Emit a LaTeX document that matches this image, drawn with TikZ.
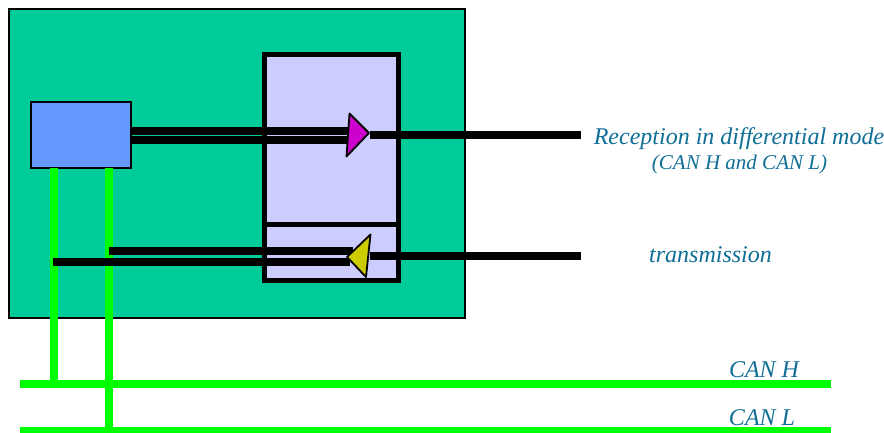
\documentclass[tikz,border=0pt]{standalone}
\usepackage{fontspec}
\setmainfont{Liberation Serif}
\definecolor{boardgreen}{HTML}{00CC99}
\definecolor{lavender}{HTML}{CCCCFF}
\definecolor{cpublue}{HTML}{6699FF}
\definecolor{rxmagenta}{HTML}{CC00CC}
\definecolor{txyellow}{HTML}{CCCC00}
\definecolor{labelblue}{HTML}{0F6E96}
\definecolor{busgreen}{HTML}{00FF00}
\tikzset{
  box/.style={rectangle,draw=black,inner sep=0pt,outer sep=0pt},
  wire/.style={line width=8pt,black},
  bus/.style={line width=8pt,busgreen},
  lbl/.style={text=labelblue,inner sep=0pt,font=\itshape\fontsize{24}{28}\selectfont}
}

\begin{document}
\begin{tikzpicture}[x=1pt,y=-1pt]
  \useasboundingbox (0,0) rectangle (884,432);
  \node[box,fill=boardgreen,line width=2pt,minimum width=456pt,minimum height=309pt] (board) at (237,163.5) {};
  \node[box,fill=lavender,line width=5pt,minimum width=134pt,minimum height=226pt] (xcvr) at (331.5,167.5) {};
  \node[box,fill=cpublue,line width=2pt,minimum width=100pt,minimum height=66pt] (cpu) at (81,135) {};
  \coordinate (divl) at (264.5,224);
  \coordinate (divr) at (398.5,224);
  \draw[line width=5pt] (divl) -- (divr);
  % bus
  \coordinate (hl) at (20,384);
  \coordinate (hr) at (831,384);
  \coordinate (ll) at (20,431);
  \coordinate (lr) at (831,431);
  \coordinate (tapH) at (53.5,168);
  \coordinate (tapL) at (109,168);
  \coordinate (dropH) at (53.5,384);
  \coordinate (dropL) at (109,431);
  \draw[bus] (hl) -- (hr);
  \draw[bus] (ll) -- (lr);
  \draw[bus] (tapH) -- (dropH);
  \draw[bus] (tapL) -- (dropL);
  % wires
  \coordinate (rxa) at (131,130.5);
  \coordinate (rxb) at (350,130.5);
  \coordinate (rxc) at (131,139.5);
  \coordinate (rxd) at (350,139.5);
  \coordinate (rxe) at (370,135);
  \coordinate (rxf) at (581,135);
  \coordinate (txa) at (109,251);
  \coordinate (txb) at (353,251);
  \coordinate (txc) at (53,262);
  \coordinate (txd) at (350,262);
  \coordinate (txe) at (370,256);
  \coordinate (txf) at (581,256);
  \draw[wire] (rxa) -- (rxb);
  \draw[wire] (rxc) -- (rxd);
  \draw[wire] (rxe) -- (rxf);
  \draw[wire] (txa) -- (txb);
  \draw[wire] (txc) -- (txd);
  \draw[wire] (txe) -- (txf);
  % amplifiers
  \draw[fill=rxmagenta,line width=1.8pt,line join=round] (349.5,113.5) -- (369,133) -- (346.5,156.5) -- cycle;
  \draw[fill=txyellow,line width=1.8pt,line join=round] (370.5,234.5) -- (347,257) -- (366,277) -- cycle;
  % labels
  \node[lbl] (rxlabel) at (739,138.5) {Reception in differential mode};
  \node[lbl,font=\itshape\fontsize{21}{24}\selectfont] (rxsub) at (739.5,164) {(CAN H and CAN L)};
  \node[lbl] (txlabel) at (710.5,254.5) {transmission};
  \node[lbl] (canh) at (764,370) {CAN H};
  \node[lbl] (canl) at (762,418) {CAN L};
\end{tikzpicture}
\end{document}
